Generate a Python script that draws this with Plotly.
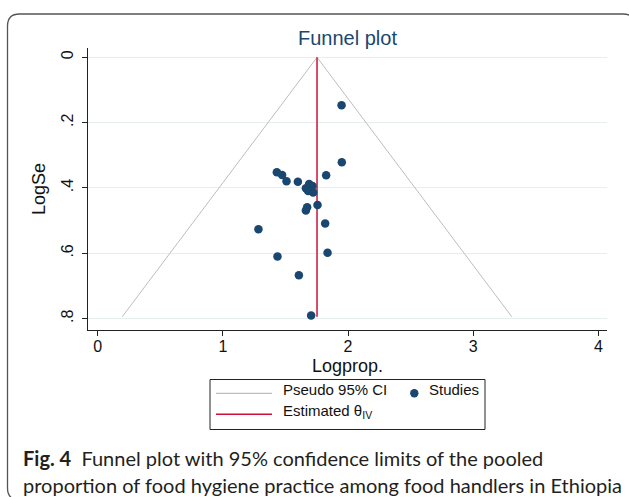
import plotly.graph_objects as go

# ---- data ----
logprop = [1.948, 1.950, 1.431, 1.473, 1.508, 1.599, 1.825,
           1.689, 1.716, 1.663, 1.700, 1.721, 1.681,
           1.756, 1.673, 1.663, 1.817, 1.284, 1.436, 1.836, 1.607, 1.705]
logse = [0.147, 0.321, 0.352, 0.360, 0.379, 0.381, 0.361,
         0.388, 0.394, 0.401, 0.406, 0.414, 0.409,
         0.452, 0.459, 0.469, 0.509, 0.526, 0.610, 0.598, 0.667, 0.790]
theta_iv = 1.752
funnel_x = [0.196, 1.752, 3.308]
funnel_y = [0.794, 0.0, 0.794]
est_y = [0.0, 0.794]
x_ticks = [0, 1, 2, 3, 4]
y_ticks = [0, 0.2, 0.4, 0.6, 0.8]
y_ticklabels = ["0", ".2", ".4", ".6", ".8"]

W, H = 629, 497
L, R, T, B = 88, 607, 48, 330


def px(x):
    return (x - L) / (R - L)


def py(y):
    return (B - y) / (B - T)


NAVY = "#1a476f"
RED = "#cc1138"
GRAY = "#bdbdbd"
AXFONT = "Liberation Sans, Arial, sans-serif"

fig = go.Figure()
fig.add_trace(go.Scatter(x=funnel_x, y=funnel_y, mode="lines",
                         line=dict(color=GRAY, width=1), hoverinfo="skip"))
fig.add_trace(go.Scatter(x=[theta_iv, theta_iv], y=est_y, mode="lines",
                         line=dict(color=RED, width=1.5), hoverinfo="skip"))
fig.add_trace(go.Scatter(x=logprop, y=logse, mode="markers",
                         marker=dict(color=NAVY, size=8.5, line=dict(width=0))))

shapes = []
annotations = []

# outer rounded frame
r = 12
fx0, fy0, fx1, fy1 = 7.5, 14, 635, 500
path = (f"M {px(fx0)},{py(fy0 + r)} Q {px(fx0)},{py(fy0)} {px(fx0 + r)},{py(fy0)} "
        f"L {px(fx1 - r)},{py(fy0)} Q {px(fx1)},{py(fy0)} {px(fx1)},{py(fy0 + r)} "
        f"L {px(fx1)},{py(fy1 - r)} Q {px(fx1)},{py(fy1)} {px(fx1 - r)},{py(fy1)} "
        f"L {px(fx0 + r)},{py(fy1)} Q {px(fx0)},{py(fy1)} {px(fx0)},{py(fy1 - r)} Z")
shapes.append(dict(type="path", xref="paper", yref="paper", path=path,
                   line=dict(color="#555555", width=1.3), layer="below"))

# legend box
shapes.append(dict(type="rect", xref="paper", yref="paper",
                   x0=px(210), x1=px(485), y0=py(379.5), y1=py(429.5),
                   line=dict(color="#222222", width=1), fillcolor="white"))
shapes.append(dict(type="line", xref="paper", yref="paper",
                   x0=px(216), x1=px(272), y0=py(393.3), y1=py(393.3),
                   line=dict(color=GRAY, width=1.2)))
shapes.append(dict(type="line", xref="paper", yref="paper",
                   x0=px(216), x1=px(272), y0=py(414.3), y1=py(414.3),
                   line=dict(color=RED, width=1.5)))
shapes.append(dict(type="circle", xref="paper", yref="paper",
                   xsizemode="pixel", ysizemode="pixel",
                   xanchor=px(414.3), yanchor=py(393.3),
                   x0=-4.2, x1=4.2, y0=-4.2, y1=4.2,
                   fillcolor=NAVY, line=dict(width=0)))

LEGFONT = dict(family=AXFONT, size=15, color="#111111")
annotations.append(dict(xref="paper", yref="paper", x=px(281), y=py(389.5),
                        xanchor="left", yanchor="middle", showarrow=False,
                        text="Pseudo 95% CI", font=LEGFONT))
annotations.append(dict(xref="paper", yref="paper", x=px(427), y=py(389.5),
                        xanchor="left", yanchor="middle", showarrow=False,
                        text="Studies", font=LEGFONT))
annotations.append(dict(xref="paper", yref="paper", x=px(281), y=py(411.5),
                        xanchor="left", yanchor="middle", showarrow=False,
                        text="Estimated θ<sub>IV</sub>", font=LEGFONT))

# caption
CAPFONT = dict(family="Lato, Open Sans, sans-serif", size=20, color="#231f20")
annotations.append(dict(xref="paper", yref="paper", x=px(21), y=py(458),
                        xanchor="left", yanchor="middle", showarrow=False,
                        text="<b>Fig. 4</b>  Funnel plot with 95% confidence limits of the pooled",
                        font=CAPFONT))
annotations.append(dict(xref="paper", yref="paper", x=px(21), y=py(485),
                        xanchor="left", yanchor="middle", showarrow=False,
                        text="proportion of food hygiene practice among food handlers in Ethiopia",
                        font=CAPFONT))

xr0 = -0.078
xr1 = 4.069
fig.update_layout(
    width=W, height=H,
    margin=dict(l=L, r=W - R, t=T, b=H - B, pad=0),
    paper_bgcolor="white", plot_bgcolor="white",
    showlegend=False,
    title=dict(text="Funnel plot", x=px(347.5), xref="paper", xanchor="center",
               y=1 - 38 / H, yref="container", yanchor="middle",
               font=dict(family=AXFONT, size=20, color=NAVY)),
    xaxis=dict(range=[xr0, xr1], tickvals=x_ticks, ticktext=[str(v) for v in x_ticks],
               showgrid=False, zeroline=False, showline=True, linecolor="#222222",
               linewidth=1, ticks="outside", ticklen=5, tickcolor="#222222",
               ticklabelstandoff=-3,
               tickfont=dict(family=AXFONT, size=16, color="#111111"),
               title=dict(text="Logprop.", standoff=5,
                          font=dict(family=AXFONT, size=18, color="#111111"))),
    yaxis=dict(range=[0.8347, -0.0285], tickvals=y_ticks, ticktext=y_ticklabels,
               tickangle=-90, showgrid=True, gridcolor="#e6eff0", gridwidth=1,
               zeroline=False, showline=True, linecolor="#222222", linewidth=1,
               ticks="outside", ticklen=5, tickcolor="#222222",
               ticklabelstandoff=3,
               tickfont=dict(family=AXFONT, size=16, color="#111111"),
               title=dict(text="LogSe", standoff=8,
                          font=dict(family=AXFONT, size=18, color="#111111"))),
    shapes=shapes, annotations=annotations,
)

fig.write_html(
    "out.html",
    config={"displayModeBar": False},
    post_script="document.body.style.margin='0';document.body.style.padding='0';"
                "document.documentElement.style.overflow='hidden';",
)
